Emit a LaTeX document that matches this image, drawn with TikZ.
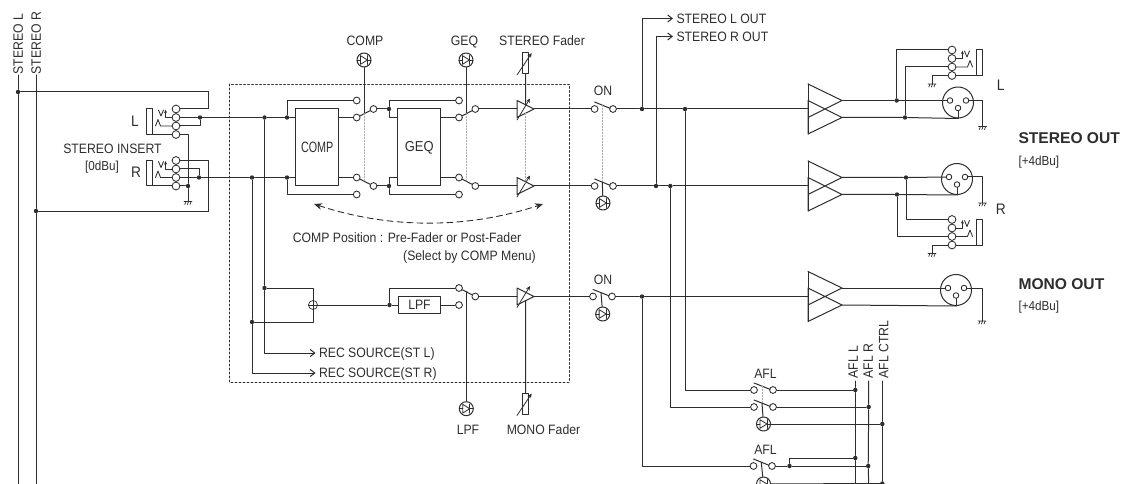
\documentclass[tikz,border=0pt]{standalone}
\usepackage{fontspec}
\setmainfont[FakeStretch=.9]{Liberation Sans}
\newfontfamily\headfont{Liberation Sans}
\usetikzlibrary{arrows.meta,calc,positioning}
\definecolor{wireink}{RGB}{45,45,45}
\definecolor{gangink}{RGB}{170,170,170}
\newcommand{\gnd}[2]{%
 \coordinate (#2) at (#1);
 \begin{scope}[shift={(#1)},line width=.7pt]
  \draw (-4,0)--(4,0) (-3.2,3)--(-2,0) (-.6,3)--(.6,0) (2,3)--(3.2,0);
 \end{scope}}
\newcommand{\lamp}[2]{%
 \node[lampring] (#2) at (#1) {};
 \begin{scope}[shift={(#1)},line width=.8pt]
  \draw (-3.6,-4.4)--(3.4,0)--(-3.6,4.4)--cycle;
  \draw (3.4,-4.4)--(3.4,4.4) (-7,0)--(-3.6,0) (3.4,0)--(7,0);
 \end{scope}}
\newcommand{\fader}[2]{%
 \node[faderbox] (#2) at (#1) {};
 \draw[-{Stealth[length=4.5pt,width=4pt]},line width=.8pt] ($(#2)+(-8.7,11.5)$)--($(#2)+(6,-10.5)$);}
\newcommand{\trimamp}[2]{%
 \begin{scope}[shift={(#1)}]
  \draw (-8.5,-8.5)--(8.5,0)--(-8.5,8.5)--cycle;
  \draw[-{Stealth[length=4.5pt,width=4pt]},line width=.8pt] (-8.5,11)--(4.5,-10.5);
  \coordinate (#2i) at (-8.5,0);
  \coordinate (#2o) at (8.5,0);
  \coordinate (#2t) at (0,-4.2);
  \coordinate (#2b) at (0,4.2);
 \end{scope}}
\newcommand{\bigamp}[2]{%
 \begin{scope}[shift={(#1)}]
  \draw (0,-25)--(34,-8.5)--(0,8.5) (0,-8.5)--(34,8.5)--(0,25)--cycle;
  \coordinate (#2i) at (0,0);
  \coordinate (#2u) at (34,-8.5);
  \coordinate (#2l) at (34,8.5);
  \draw (0,-25)--(0,25);
 \end{scope}}
\newcommand{\xlr}[2]{%
 \node[xlrring] (#2) at (#1) {};
 \node[pinring] (#2a) at ($(#2)+(-8,-2)$) {};
 \node[pinring] (#2b) at ($(#2)+(8,-2)$) {};
 \node[pinring] (#2c) at ($(#2)+(0,5.5)$) {};
 \draw (#2c)--(#2.south);}
\newcommand{\jack}[3]{%
 \begin{scope}[shift={(#1)},xscale=#3]
  \node[jackterm] (#2a) at (0,0) {};
  \node[jackterm] (#2b) at (0,8.5) {};
  \node[jackterm] (#2c) at (0,17) {};
  \node[jackterm] (#2d) at (0,25.5) {};
  \draw (-30,0) rectangle (-24,25.5);
  \draw (#2d)--(-24,25.5);
  \draw[line width=.85pt] (-17.5,1)--(-15,7)--(-12.5,1);
  \draw[-{Stealth[length=3.5pt,width=3pt]},line width=.85pt] (#2b)-|(-10.4,.6);
  \draw[line width=.85pt] (-20.5,17)--(-18,10.5)--(-15.5,17)--(#2c);
 \end{scope}}
\newcommand{\opensw}[4]{%
 \node[term] (#1a) at (#2,#4) {};
 \node[term] (#1b) at (#3,#4) {};
 \coordinate (#1s) at ($(#1a)+(0,-7)$);
 \coordinate (#1e) at ($(#1b)+(-3,-.7)$);
 \coordinate (#1m) at ($(#1s)!.5!(#1e)$);
 \draw (#1s)--(#1e);}

\begin{document}
\begin{tikzpicture}[x=1pt,y=-1pt,>=Stealth,line cap=round,line join=round,
  line width=1pt,color=wireink,
  lbl/.style={font=\fontsize{13.6}{15}\selectfont,inner sep=0pt,text height=9.7pt,text depth=0pt},
  lblsmall/.style={font=\fontsize{13}{15}\selectfont,inner sep=0pt,text height=9.3pt,text depth=0pt},
  lblbold/.style={font=\headfont\fontsize{15.6}{18}\selectfont\bfseries,inner sep=0pt,text height=11.3pt,text depth=0pt},
  dot/.style={circle,fill=wireink,inner sep=0pt,minimum size=4.4pt},
  term/.style={circle,draw,fill=white,inner sep=0pt,minimum size=6.8pt,line width=.85pt},
  jackterm/.style={term,minimum size=7.8pt},
  pinring/.style={term,minimum size=5.6pt},
  lampring/.style={circle,draw,inner sep=0pt,minimum size=14pt},
  xlrring/.style={circle,draw,inner sep=0pt,minimum size=31pt},
  faderbox/.style={draw,inner sep=0pt,minimum width=6pt,minimum height=21pt},
  fnbox/.style={draw,inner sep=0pt,minimum width=42.7pt,minimum height=77pt},
  gang/.style={gangink,line width=.7pt,dash pattern=on 1.5pt off 1.5pt},
  outarrow/.style={-{Straight Barb[length=4.5pt,width=7pt]},shorten >=3pt}]
 \clip (0,0) rectangle (1125,484);
 % stereo buses and insert
 \node[lbl,rotate=90,anchor=west] (tStL) at (18,75) {STEREO L};
 \node[lbl,rotate=90,anchor=west] (tStR) at (36,75) {STEREO R};
 \coordinate (stLe) at (18,484);
 \coordinate (stRe) at (36,484);
 \node[dot] (dSL) at (18,92) {};
 \node[dot] (dSR) at (36,211) {};
 \draw (tStL.west)--(dSL)--(stLe);
 \draw (tStR.west)--(dSR)--(stRe);
 \jack{176,109}{jL}{1}
 \jack{176,160.5}{jR}{1}
 \node[lbl,scale=1.12] (tJL) at (135,121) {L};
 \node[lbl,scale=1.12] (tJR) at (136,172) {R};
 \node[lbl] (tIns) at (112.5,149) {STEREO INSERT};
 \node[lblsmall] (tInsV) at (102,166) {[0dBu]};
 \coordinate (cLtop) at (208,109);
 \coordinate (cRbot) at (208,211);
 \node[dot] (dJL) at (200,117.5) {};
 \node[dot] (dJR) at (199,177.5) {};
 \node[dot] (dGI) at (188,186) {};
 \gnd{188,201.5}{gIns}
 \draw (dSL)-|(cLtop)--(jLa);
 \draw (jRa)-|(cRbot)--(dSR);
 \draw (jLc)-|(dJL);
 \draw (jRb)-|(dJR);
 \draw (jLd)-|(dGI);
 \draw (jRd)--(dGI)--(gIns);
 % DSP area
 \draw[line width=.9pt,dash pattern=on 2pt off 2pt] (229.5,84) rectangle (569,382.5);
 \node[dot] (dML) at (264.5,117.5) {};
 \node[dot] (dMR) at (252,177.5) {};
 \node[dot] (dCL) at (287,117.5) {};
 \node[dot] (dCR) at (287,177.5) {};
 \node[fnbox] (compBox) at (317.2,147.5) {\fontsize{15}{16}\selectfont\scalebox{.8}[1]{COMP}};
 \node[fnbox] (geqBox) at (419.3,147.5) {\fontsize{14.4}{15}\selectfont GEQ};
 \node[term] (cLt) at (356.7,100.5) {};
 \node[term] (cLi) at (356.7,117.5) {};
 \node[term] (cLo) at (373.5,109) {};
 \node[term] (cRi) at (356.7,177.5) {};
 \node[term] (cRt) at (356.7,194.5) {};
 \node[term] (cRo) at (373.5,186) {};
 \node[term] (gLt) at (459,100.5) {};
 \node[term] (gLi) at (459,117.5) {};
 \node[term] (gLo) at (475.3,109) {};
 \node[term] (gRi) at (459,177.5) {};
 \node[term] (gRt) at (459,194.5) {};
 \node[term] (gRo) at (475.3,186) {};
 \node[dot] (dGL) at (389,109) {};
 \node[dot] (dGR) at (389,186) {};
 \draw (jLb)--(dJL)--(dML)--(dCL)--(compBox.west |- dCL);
 \draw (jRc)--(dJR)--(dMR)--(dCR)--(compBox.west |- dCR);
 \draw (dCL)|-(cLt);
 \draw (dCR)|-(cRt);
 \draw (compBox.east |- cLi)--(cLi);
 \draw (compBox.east |- cRi)--(cRi);
 \draw (cLi)--(cLo);
 \draw (cRi)--(cRo);
 \draw (cLo)--(dGL)|-(gLt);
 \draw (cRo)--(dGR)|-(gRt);
 \draw (dGL)|-(geqBox.west |- gLi);
 \draw (dGR)|-(geqBox.west |- gRi);
 \draw (geqBox.east |- gLi)--(gLi);
 \draw (geqBox.east |- gRi)--(gRi);
 \draw (gLi)--(gLo);
 \draw (gRi)--(gRo);
 % insert lamps above the switches
 \lamp{364,60}{ledComp}
 \lamp{466,60}{ledGeq}
 \node[lbl] (tComp) at (365,41) {COMP};
 \node[lbl] (tGeq) at (464.5,41) {GEQ};
 \coordinate (armC) at (364,113.5);
 \coordinate (armCd) at (364,180.5);
 \coordinate (armG) at (466,113.5);
 \coordinate (armGd) at (466,181);
 \draw (ledComp)--(armC);
 \draw (ledGeq)--(armG);
 \draw[gang] (armC)--(armCd);
 \draw[gang] (armG)--(armGd);
 % faders
 \trimamp{525.5,109}{amL}
 \trimamp{525.5,186}{amR}
 \trimamp{525.5,296.5}{amM}
 \fader{525.7,63.5}{fdSt}
 \fader{525.7,404}{fdMo}
 \node[lbl] (tFdSt) at (542,41) {STEREO Fader};
 \node[lbl] (tFdMo) at (543.5,429.5) {MONO Fader};
 \draw (fdSt)--(amLt);
 \draw (amMb)--(fdMo);
 \draw[gang] (amLb)--($(amRt)+(0,1)$);
 \draw (gLo)--(amLi);
 \draw (gRo)--(amRi);
 % ON switches
 \opensw{onL}{594.6}{613}{109}
 \opensw{onR}{594.6}{613}{186}
 \opensw{onM}{593}{612}{296.5}
 \node[lbl] (tOnL) at (603,91) {ON};
 \node[lbl] (tOnM) at (603,280) {ON};
 \lamp{603,203}{ledOnR}
 \lamp{602.7,314}{ledOnM}
 \draw[gang] (onLm)--(onRm);
 \draw (onRm)--(ledOnR);
 \draw (onMm)--(ledOnM);
 \draw (amLo)--(onLa);
 \draw (amRo)--(onRa);
 \draw (amMo)--(onMa);
 % mono sum and LPF
 \node[dot] (dSuL) at (264.5,288) {};
 \node[dot] (dSuR) at (252,322) {};
 \node[circle,draw,inner sep=0pt,minimum size=9pt,line width=.7pt] (sumM) at (313,305) {};
 \draw[line width=.7pt] (308.5,305)--(317.5,305) (313,300.5)--(313,309.5);
 \node[draw,inner sep=0pt,minimum width=42.7pt,minimum height=17.7pt,lbl,text height=9.7pt] (lpfBox) at (419.5,305) {LPF};
 \node[dot] (dLp) at (389.5,305) {};
 \node[term] (lSa) at (459,288) {};
 \node[term] (lSb) at (459,305) {};
 \node[term] (lSo) at (475.3,296.5) {};
 \coordinate (armL) at (466.3,291.7);
 \lamp{466.3,408.7}{ledLpf}
 \node[lbl] (tLpf) at (468,430) {LPF};
 \draw (dML)--(dSuL)-|(sumM);
 \draw (dMR)--(dSuR)-|(sumM);
 \draw (sumM)--(dLp)--(lpfBox);
 \draw (dLp)|-(lSa);
 \draw (lpfBox)--(lSb);
 \draw (lSa)--(lSo);
 \draw (lSo)--(amMi);
 \draw (armL)--(ledLpf);
 \node[lbl,anchor=west] (tRecL) at (318.5,353) {REC SOURCE(ST L)};
 \node[lbl,anchor=west] (tRecR) at (318.5,373) {REC SOURCE(ST R)};
 \draw[outarrow] (dSuL)|-(tRecL.west);
 \draw[outarrow] (dSuR)|-(tRecR.west);
 % comp position
 \coordinate (posA) at (314,204);
 \coordinate (posB) at (543,204);
 \draw[{Stealth[length=8pt,width=6.5pt]}-{Stealth[length=8pt,width=6.5pt]},line width=.9pt,dash pattern=on 6pt off 4pt] (posA) .. controls (390,229) and (467,229) .. (posB);
 \node[lbl] (tPos) at (407,238) {COMP Position : Pre-Fader or Post-Fader};
 \node[lbl] (tPosB) at (469.5,256) {(Select by COMP Menu)};
 % outputs
 \node[dot] (dOL) at (642,109) {};
 \node[dot] (dOR) at (656,186) {};
 \node[dot] (dOM) at (642,296.5) {};
 \node[dot] (dAL) at (685,109) {};
 \node[dot] (dAR) at (670.3,186) {};
 \node[lbl,anchor=west] (tOutL) at (676,18.5) {STEREO L OUT};
 \node[lbl,anchor=west] (tOutR) at (676,36.5) {STEREO R OUT};
 \bigamp{808,109}{bgL}
 \bigamp{808,186}{bgR}
 \bigamp{808,296.5}{bgM}
 \draw (onLb)--(dOL)--(dAL)--(bgLi);
 \draw (onRb)--(dOR)--(dAR)--(bgRi);
 \draw (onMb)--(dOM)--(bgMi);
 \draw[outarrow] (dOL)|-(tOutL.west);
 \draw[outarrow] (dOR)|-(tOutR.west);
 \xlr{958,102.5}{xL}
 \xlr{957,179}{xR}
 \xlr{956,290}{xM}
 \jack{952,50}{joL}{-1}
 \jack{952,219.5}{joR}{-1}
 \node[dot] (dXa) at (896.7,100.5) {};
 \node[dot] (dXb) at (905,117.5) {};
 \node[dot] (dXc) at (906,177.5) {};
 \node[dot] (dXd) at (897,194.5) {};
 \gnd{982.5,126.5}{gXL}
 \gnd{982.5,203}{gXR}
 \gnd{982,321}{gXM}
 \gnd{932,84}{gJL}
 \gnd{932,253.5}{gJR}
 \draw (bgLu)--(dXa)--(xLa);
 \draw (bgLl)--(dXb)--(xL.south);
 \draw (bgRu)--(dXc)--(xRa);
 \draw (bgRl)--(dXd)--(xR.south);
 \draw (bgMu)--(xMa);
 \draw (bgMl)--(xM.south);
 \draw (xLb)-|(gXL);
 \draw (xRb)-|(gXR);
 \draw (xMb)-|(gXM);
 \draw (dXa)|-(joLa);
 \draw (dXb)|-(joLc);
 \draw (dXc)|-(joRa);
 \draw (dXd)|-(joRc);
 \draw (joLd)-|(gJL);
 \draw (joRd)-|(gJR);
 \node[lbl,scale=1.12] (tOL) at (1000.7,85) {L};
 \node[lbl,scale=1.12] (tOR) at (1000.7,209) {R};
 \node[lblbold,anchor=west] (tStOut) at (1018,138) {STEREO OUT};
 \node[lblsmall,anchor=west] (tStDb) at (1018,161) {[+4dBu]};
 \node[lblbold,anchor=west] (tMoOut) at (1018,284) {MONO OUT};
 \node[lblsmall,anchor=west] (tMoDb) at (1018,306) {[+4dBu]};
 % AFL
 \opensw{afL}{754}{773}{390}
 \opensw{afR}{754}{773}{407}
 \opensw{afM}{753.5}{772}{466}
 \node[lbl] (tAfl) at (765.5,374) {AFL};
 \node[lbl] (tAflM) at (765.5,450) {AFL};
 \lamp{763.5,424}{ledAfl}
 \lamp{763.5,484}{ledAflM}
 \node[lbl,rotate=90,anchor=west] (tAL) at (853,379) {AFL L};
 \node[lbl,rotate=90,anchor=west] (tAR) at (868,379) {AFL R};
 \node[lbl,rotate=90,anchor=west] (tAC) at (883.5,379) {AFL CTRL};
 \coordinate (busLt) at (855.3,381);
 \coordinate (busRt) at (868.7,381);
 \coordinate (busCt) at (882.3,381);
 \coordinate (busLe) at (855.3,484);
 \coordinate (busRe) at (868.7,484);
 \coordinate (busCe) at (882.3,484);
 \node[dot] (dBa) at (855.3,390) {};
 \node[dot] (dBb) at (868.7,407) {};
 \node[dot] (dBc) at (882.3,424) {};
 \node[dot] (dBd) at (855.3,458) {};
 \node[dot] (dBe) at (868.2,466) {};
 \node[dot] (dBf) at (789.5,466) {};
 \node[dot] (dBg) at (882.3,483.5) {};
 \draw (busLt)--(dBa)--(dBd)--(busLe);
 \draw (busRt)--(dBb)--(dBe)--(busRe);
 \draw (busCt)--(dBc)--(dBg)--(busCe);
 \draw (dAL)|-(afLa);
 \draw (dAR)|-(afRa);
 \draw (dOM)|-(afMa);
 \draw (afLb)--(dBa);
 \draw (afRb)--(dBb);
 \draw (ledAfl)--(dBc);
 \draw (afMb)--(dBf)--(dBe);
 \draw (dBf)|-(dBd);
 \draw (ledAflM)--(dBg);
 \draw[gang] (afLm)--(afRm);
 \draw (afRm)--(ledAfl);
 \draw (afMm)--(ledAflM);
\end{tikzpicture}
\end{document}
